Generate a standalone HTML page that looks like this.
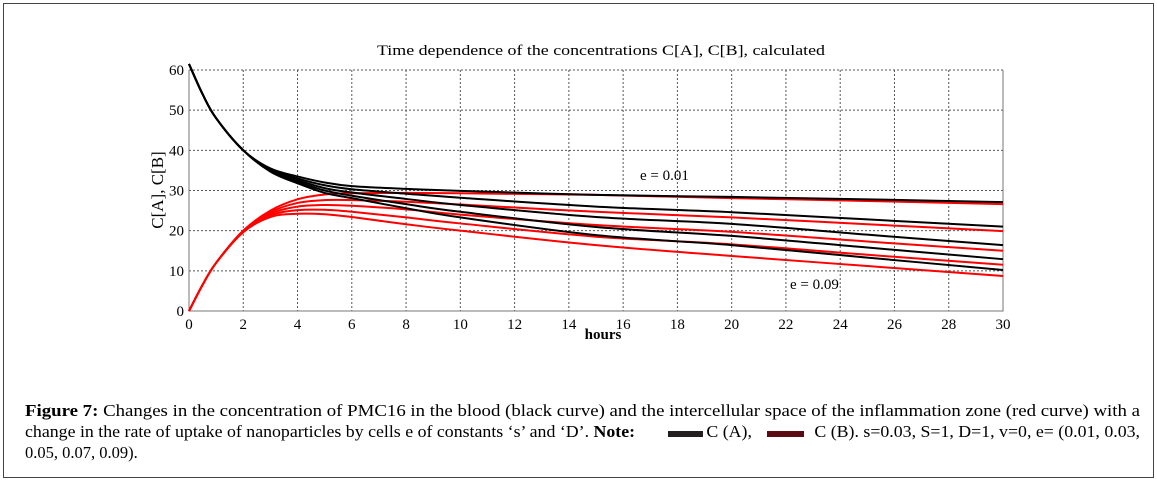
<!DOCTYPE html>
<html><head><meta charset="utf-8"><style>
body{margin:0;background:#fff;}
svg{display:block;font-family:"Liberation Serif",serif;}
</style></head><body>
<svg id="fig" width="1157" height="482" viewBox="0 0 1157 482">
<rect x="3.5" y="3.5" width="1150" height="474" fill="#fff" stroke="#444"/>
<text x="601" y="55" text-anchor="middle" font-size="15" textLength="448" lengthAdjust="spacingAndGlyphs">Time dependence of the concentrations C[A], C[B], calculated</text>
<g id="grid"></g>
<g id="axes"></g>
<g id="series"></g>
<text x="640" y="180" font-size="15">e = 0.01</text>
<text x="790" y="289" font-size="15">e = 0.09</text>
<text x="603" y="339" text-anchor="middle" font-size="15" font-weight="bold">hours</text>
<text transform="translate(163,190) rotate(-90)" text-anchor="middle" font-size="17">C[A], C[B]</text>
<g font-size="16.5">
<text x="25" y="416" textLength="1115" lengthAdjust="spacingAndGlyphs"><tspan font-weight="bold">Figure 7:</tspan> Changes in the concentration of PMC16 in the blood (black curve) and the intercellular space of the inflammation zone (red curve) with a</text>
<text x="25" y="437" textLength="1115" lengthAdjust="spacingAndGlyphs">change in the rate of uptake of nanoparticles by cells e of constants ‘s’ and ‘D’. <tspan font-weight="bold">Note:</tspan> <tspan fill="#fff">xxxxxxx</tspan> C (A), <tspan fill="#fff">xxxxxx</tspan> C (B). s=0.03, S=1, D=1, v=0, e= (0.01, 0.03,</text>
<text x="25" y="458">0.05, 0.07, 0.09).</text>
</g>
<rect x="668" y="431" width="35" height="6" fill="#231f20"/>
<rect x="767" y="431" width="37" height="6" fill="#5a0a12"/>
</svg>
<script>
const times=[0,0.5,1,2,3,4,5,6,8,10,15,20,25,30];
const blackE1=[61.5,54,48,40,35.5,33.5,32,31.1,30.4,29.9,28.9,28.4,27.8,27.1];
const blackE3=[61.5,54,48,40,35.3,33.0,31.3,30.3,29.2,28.2,26.0,24.6,22.8,21.0];
const blackE5=[61.5,54,48,40,35.1,32.6,30.6,29.5,27.9,26.4,23.4,21.7,19.0,16.4];
const blackE7=[61.5,54,48,40,34.9,32.2,30.0,28.7,26.6,24.7,20.9,18.7,15.8,12.9];
const blackE9=[61.5,54,48,40,34.7,31.8,29.4,28.1,25.6,23.3,18.9,16.4,13.3,10.2];
const redE1=[0,6.5,12,20,25,27.8,29.0,29.3,29.4,29.3,28.9,28.1,27.4,26.6];
const redE3=[0,6.5,12,20,24.6,26.9,27.6,27.6,27.2,26.5,24.7,23.3,21.6,19.9];
const redE5=[0,6.5,12,19.8,24.2,26.0,26.4,26.2,25.3,24.0,21.4,19.7,17.3,15.0];
const redE7=[0,6.5,12,19.7,23.8,25.1,25.2,24.7,23.3,21.8,18.5,16.6,14.0,11.5];
const redE9=[0,6.5,12,19.6,23.4,24.2,24.1,23.4,21.6,20.0,16.4,13.7,11.2,8.7];
const xTicks=[0,2,4,6,8,10,12,14,16,18,20,22,24,26,28,30];
const yTicks=[0,10,20,30,40,50,60];
const X0=189,X1=1003,Y0=311,Y60=70;
const xs=t=>X0+(X1-X0)*t/30;
const ys=v=>Y0-(Y0-Y60)*v/60;
const NS='http://www.w3.org/2000/svg';
function mk(tag,attrs,parent){const e=document.createElementNS(NS,tag);for(const k in attrs)e.setAttribute(k,attrs[k]);parent.appendChild(e);return e;}
const grid=document.getElementById('grid'),axes=document.getElementById('axes'),ser=document.getElementById('series');
xTicks.forEach(t=>{
  if(t>0&&t<30){const l=mk('line',{x1:xs(t),x2:xs(t),y1:Y60,y2:Y0,stroke:'#555','stroke-dasharray':'2,2'},grid);
  
  }
  const tx=mk('text',{x:xs(t),y:Y0+18,'text-anchor':'middle','font-size':'15'},axes);tx.textContent=t;
  
  
});
yTicks.forEach(v=>{
  if(v>0){const l=mk('line',{x1:X0,x2:X1,y1:ys(v),y2:ys(v),stroke:'#555','stroke-dasharray':'2,2'},grid);
  
  }
  const tx=mk('text',{x:X0-5,y:ys(v)+5,'text-anchor':'end','font-size':'15'},axes);tx.textContent=v;
  
  
});
const ax=mk('path',{d:`M${X0},${Y60}V${Y0}H${X1}V${Y60}`,fill:'none',stroke:'#777','stroke-width':1},axes);


function path(vals){
  const p=times.map((t,i)=>[xs(t),ys(vals[i])]);
  let d=`M${p[0][0]},${p[0][1]}`;
  for(let i=0;i<p.length-1;i++){
    const a=p[Math.max(i-1,0)],b=p[i],c=p[i+1],e=p[Math.min(i+2,p.length-1)];
    d+=`C${b[0]+(c[0]-a[0])/6},${b[1]+(c[1]-a[1])/6} ${c[0]-(e[0]-b[0])/6},${c[1]-(e[1]-b[1])/6} ${c[0]},${c[1]}`;
  }
  return d;
}
[[redE1,'c-b-e001'],[redE3,'c-b-e003'],[redE5,'c-b-e005'],[redE7,'c-b-e007'],[redE9,'c-b-e009']].forEach(([v,n])=>{
  const el=mk('path',{d:path(v),fill:'none',stroke:'#f00','stroke-width':2},ser);
  
  
});
[[blackE1,'c-a-e001'],[blackE3,'c-a-e003'],[blackE5,'c-a-e005'],[blackE7,'c-a-e007'],[blackE9,'c-a-e009']].forEach(([v,n])=>{
  const el=mk('path',{d:path(v),fill:'none',stroke:'#000','stroke-width':2},ser);
  
  
});
</script>
</body></html>
